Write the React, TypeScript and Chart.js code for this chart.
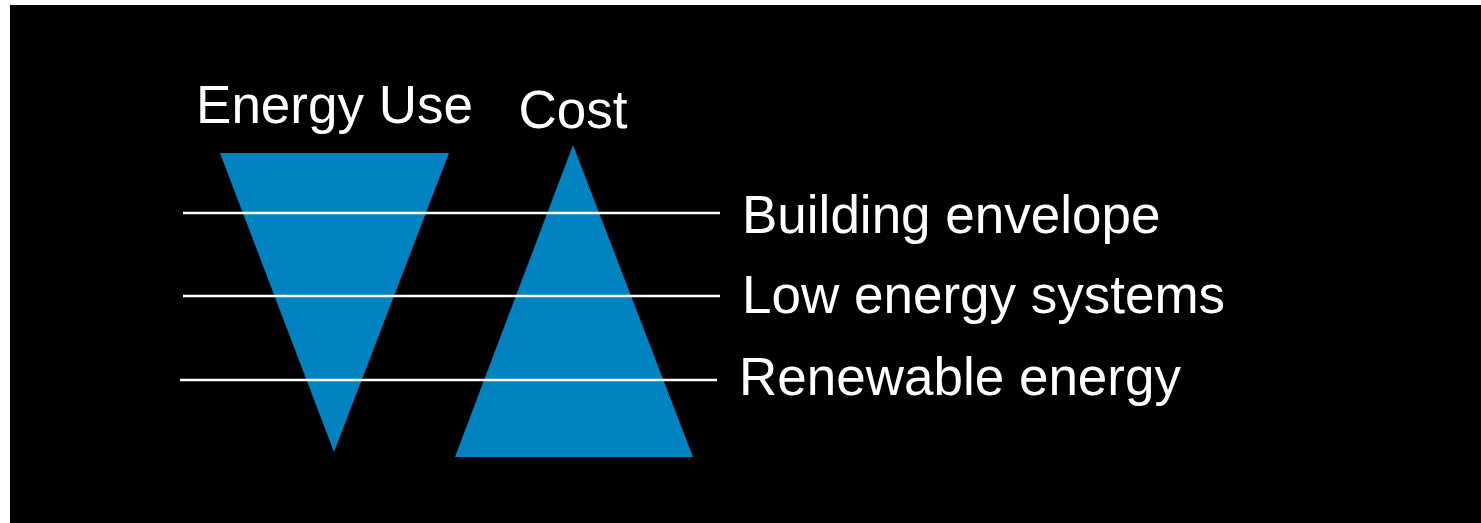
import React, { useEffect, useRef } from "react";
import { Chart, registerables } from "chart.js";

Chart.register(...registerables);

// Diagram values (x: 0–1471, y: 0–518, y up)
const energyUseX = [210, 324, 439];
const energyUseY = [370, 71, 370];
const costX = [445, 563, 683];
const costY = [66, 378, 66];

const layerLabels = ["Building envelope", "Low energy systems", "Renewable energy"];
const layerLevels = [310, 227, 143];
const layerStartX = [173, 173, 170];
const layerEndX = [710, 710, 707];
const layerLabelY = [290, 210, 128];

const titleLabels = ["Energy Use", "Cost"];
const titleLabelY = [400, 395];

const BLUE = "#0083C0";
const FONT = '53px "Liberation Sans", Arial, sans-serif';

const labelPlugin = {
  id: "diagramLabels",
  afterDatasetsDraw(chart: any) {
    const { ctx, scales } = chart;
    const xs = scales.x;
    const ys = scales.y;
    ctx.save();
    ctx.fillStyle = "#ffffff";
    ctx.font = FONT;
    ctx.textBaseline = "alphabetic";
    const euCenter = (Math.min(...energyUseX) + Math.max(...energyUseX)) / 2;
    const costCenter = costX[costY.indexOf(Math.max(...costY))];
    const centers = [euCenter, costCenter];
    ctx.textAlign = "center";
    titleLabels.forEach((t, i) => {
      ctx.fillText(t, xs.getPixelForValue(centers[i]), ys.getPixelForValue(titleLabelY[i]));
    });
    ctx.textAlign = "left";
    layerLabels.forEach((t, i) => {
      ctx.fillText(t, xs.getPixelForValue(layerEndX[i]) + 22, ys.getPixelForValue(layerLabelY[i]));
    });
    ctx.restore();
  },
};

export default function App() {
  const ref = useRef<HTMLCanvasElement>(null);

  useEffect(() => {
    if (!ref.current) return;
    const lineSets = layerLevels.map((lv, i) => ({
      label: layerLabels[i],
      data: [
        { x: layerStartX[i], y: lv },
        { x: layerEndX[i], y: lv },
      ],
      showLine: true,
      borderColor: "#ffffff",
      borderWidth: 2.4,
      pointRadius: 0,
      fill: false,
    }));
    const chart = new Chart(ref.current, {
      type: "scatter",
      data: {
        datasets: [
          ...lineSets,
          {
            label: "Energy Use",
            data: energyUseX.map((x, i) => ({ x, y: energyUseY[i] })),
            showLine: true,
            borderWidth: 0,
            borderColor: BLUE,
            backgroundColor: BLUE,
            pointRadius: 0,
            fill: { target: { value: Math.max(...energyUseY) } },
          },
          {
            label: "Cost",
            data: costX.map((x, i) => ({ x, y: costY[i] })),
            showLine: true,
            borderWidth: 0,
            borderColor: BLUE,
            backgroundColor: BLUE,
            pointRadius: 0,
            fill: { target: { value: Math.min(...costY) } },
          },
        ] as any,
      },
      options: {
        animation: false,
        responsive: false,
        events: [],
        layout: { padding: 0 },
        plugins: {
          legend: { display: false },
          tooltip: { enabled: false },
          title: { display: false },
        },
        scales: {
          x: { type: "linear", min: 0, max: 1471, display: false },
          y: { type: "linear", min: 0, max: 518, display: false },
        },
      },
      plugins: [labelPlugin],
    });
    return () => chart.destroy();
  }, []);

  return (
    <div style={{ position: "fixed", left: 0, top: 0, width: 1481, height: 523, background: "#ffffff" }}>
      <div style={{ position: "absolute", left: 10, top: 5, width: 1471, height: 518, background: "#000000" }}>
        <canvas ref={ref} width={1471} height={518} style={{ width: 1471, height: 518, display: "block" }} />
      </div>
    </div>
  );
}
